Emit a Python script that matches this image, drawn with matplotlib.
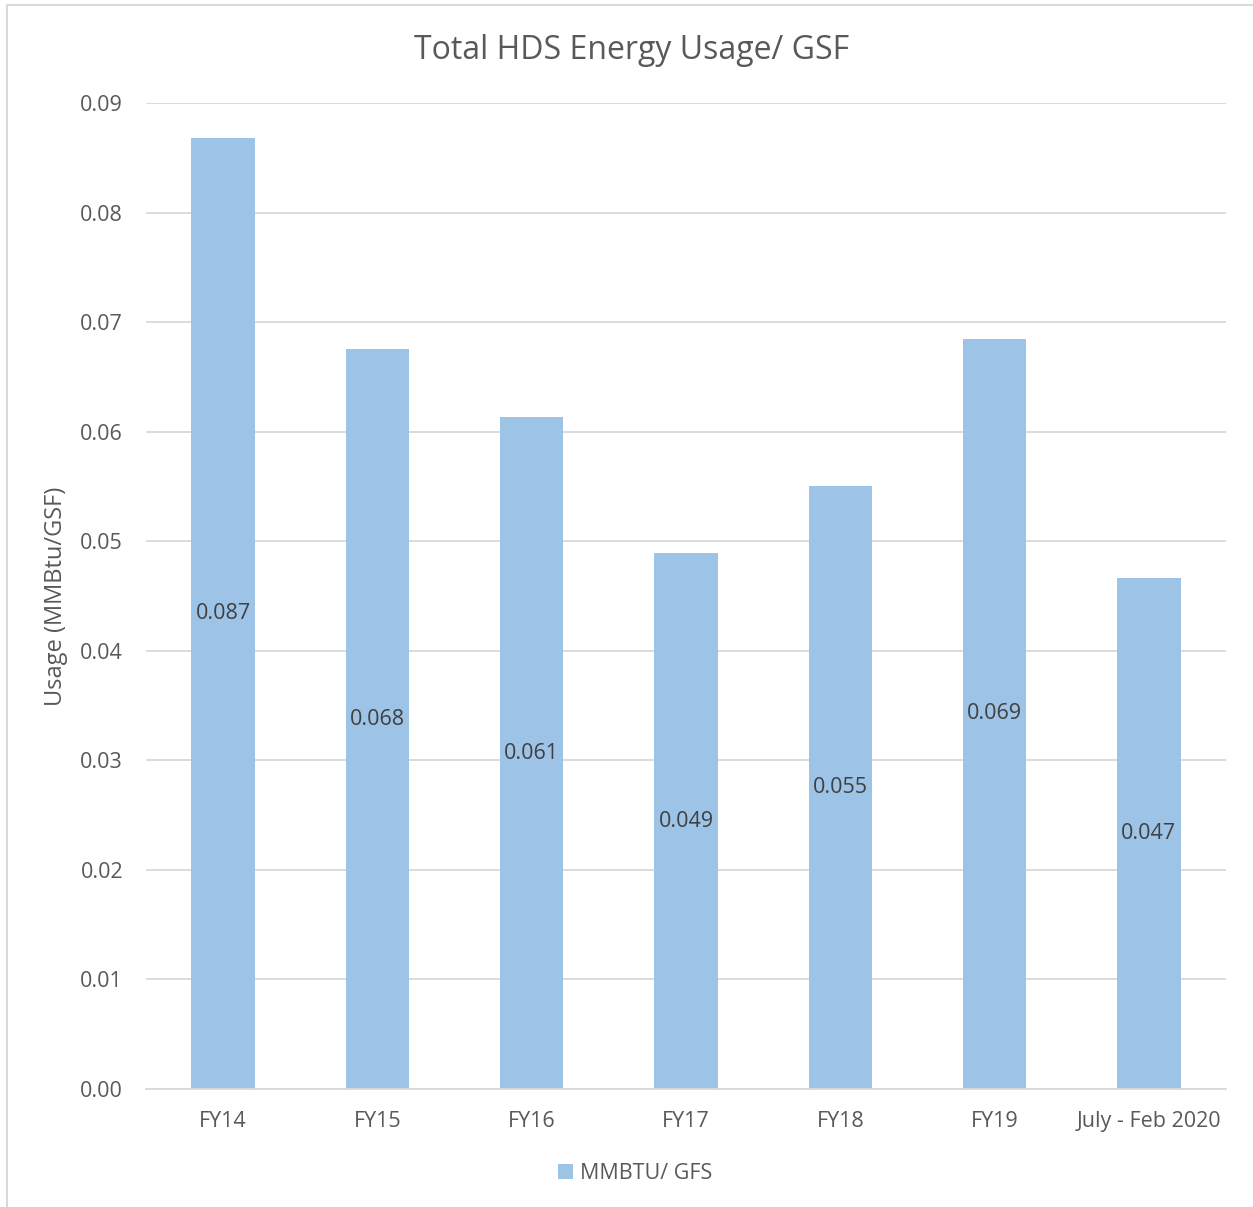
import matplotlib.pyplot as plt
from matplotlib.patches import Rectangle

categories = ['FY14', 'FY15', 'FY16', 'FY17', 'FY18', 'FY19', 'July - Feb 2020']
usage = [0.0868, 0.0675, 0.0613, 0.0489, 0.0550, 0.0685, 0.0466]
series_name = 'MMBTU/ GFS'

text_col = '#595959'
bar_col = '#9DC3E6'
grid_col = '#D9D9D9'

plt.rcParams['font.family'] = ['Open Sans', 'DejaVu Sans']

fig = plt.figure(figsize=(12.53, 12.07), dpi=100)
ax = fig.add_axes([0.1165, 0.0978, 0.862, 0.8169])

x = list(range(len(categories)))
bars = ax.bar(x, usage, width=0.41, color=bar_col, label=series_name, zorder=2)

for xi, v in zip(x, usage):
    ax.text(xi, v / 2, '%.3f' % v, ha='center', va='center', fontsize=15.5, color='#404040', zorder=3)

ax.set_xlim(-0.5, len(categories) - 0.5)
ax.set_ylim(0, 0.09)
ax.set_yticks([i / 100 for i in range(10)])
ax.set_yticklabels(['%.2f' % (i / 100) for i in range(10)])
ax.set_xticks(x)
ax.set_xticklabels(categories)
ax.tick_params(axis='both', length=0, labelsize=15.5, colors=text_col)
ax.tick_params(axis='y', pad=16.5)
ax.tick_params(axis='x', pad=16)

ax.yaxis.grid(True, color=grid_col, linewidth=1.3, zorder=0)
for s in ['top', 'right', 'left']:
    ax.spines[s].set_visible(False)
ax.spines['bottom'].set_color(grid_col)
ax.spines['bottom'].set_linewidth(1.3)

ax.set_ylabel('Usage (MMBtu/GSF)', fontsize=17, color=text_col, labelpad=9)
fig.text(0.504, 0.958, 'Total HDS Energy Usage/ GSF', ha='center', va='center', fontsize=23, color=text_col)

fig.legend(handles=[bars], labels=[series_name], loc='center', bbox_to_anchor=(0.507, 0.028),
           frameon=False, fontsize=15.5, labelcolor=text_col, handlelength=0.7, handleheight=0.7,
           handletextpad=0.3)

# outer chart frame
fig.patches.append(Rectangle((7 / 1253, -0.01), 1.0, 1 - 5 / 1207 + 0.01, transform=fig.transFigure,
                             fill=False, edgecolor=grid_col, linewidth=1.5))

fig.savefig('out.png', dpi=100)
